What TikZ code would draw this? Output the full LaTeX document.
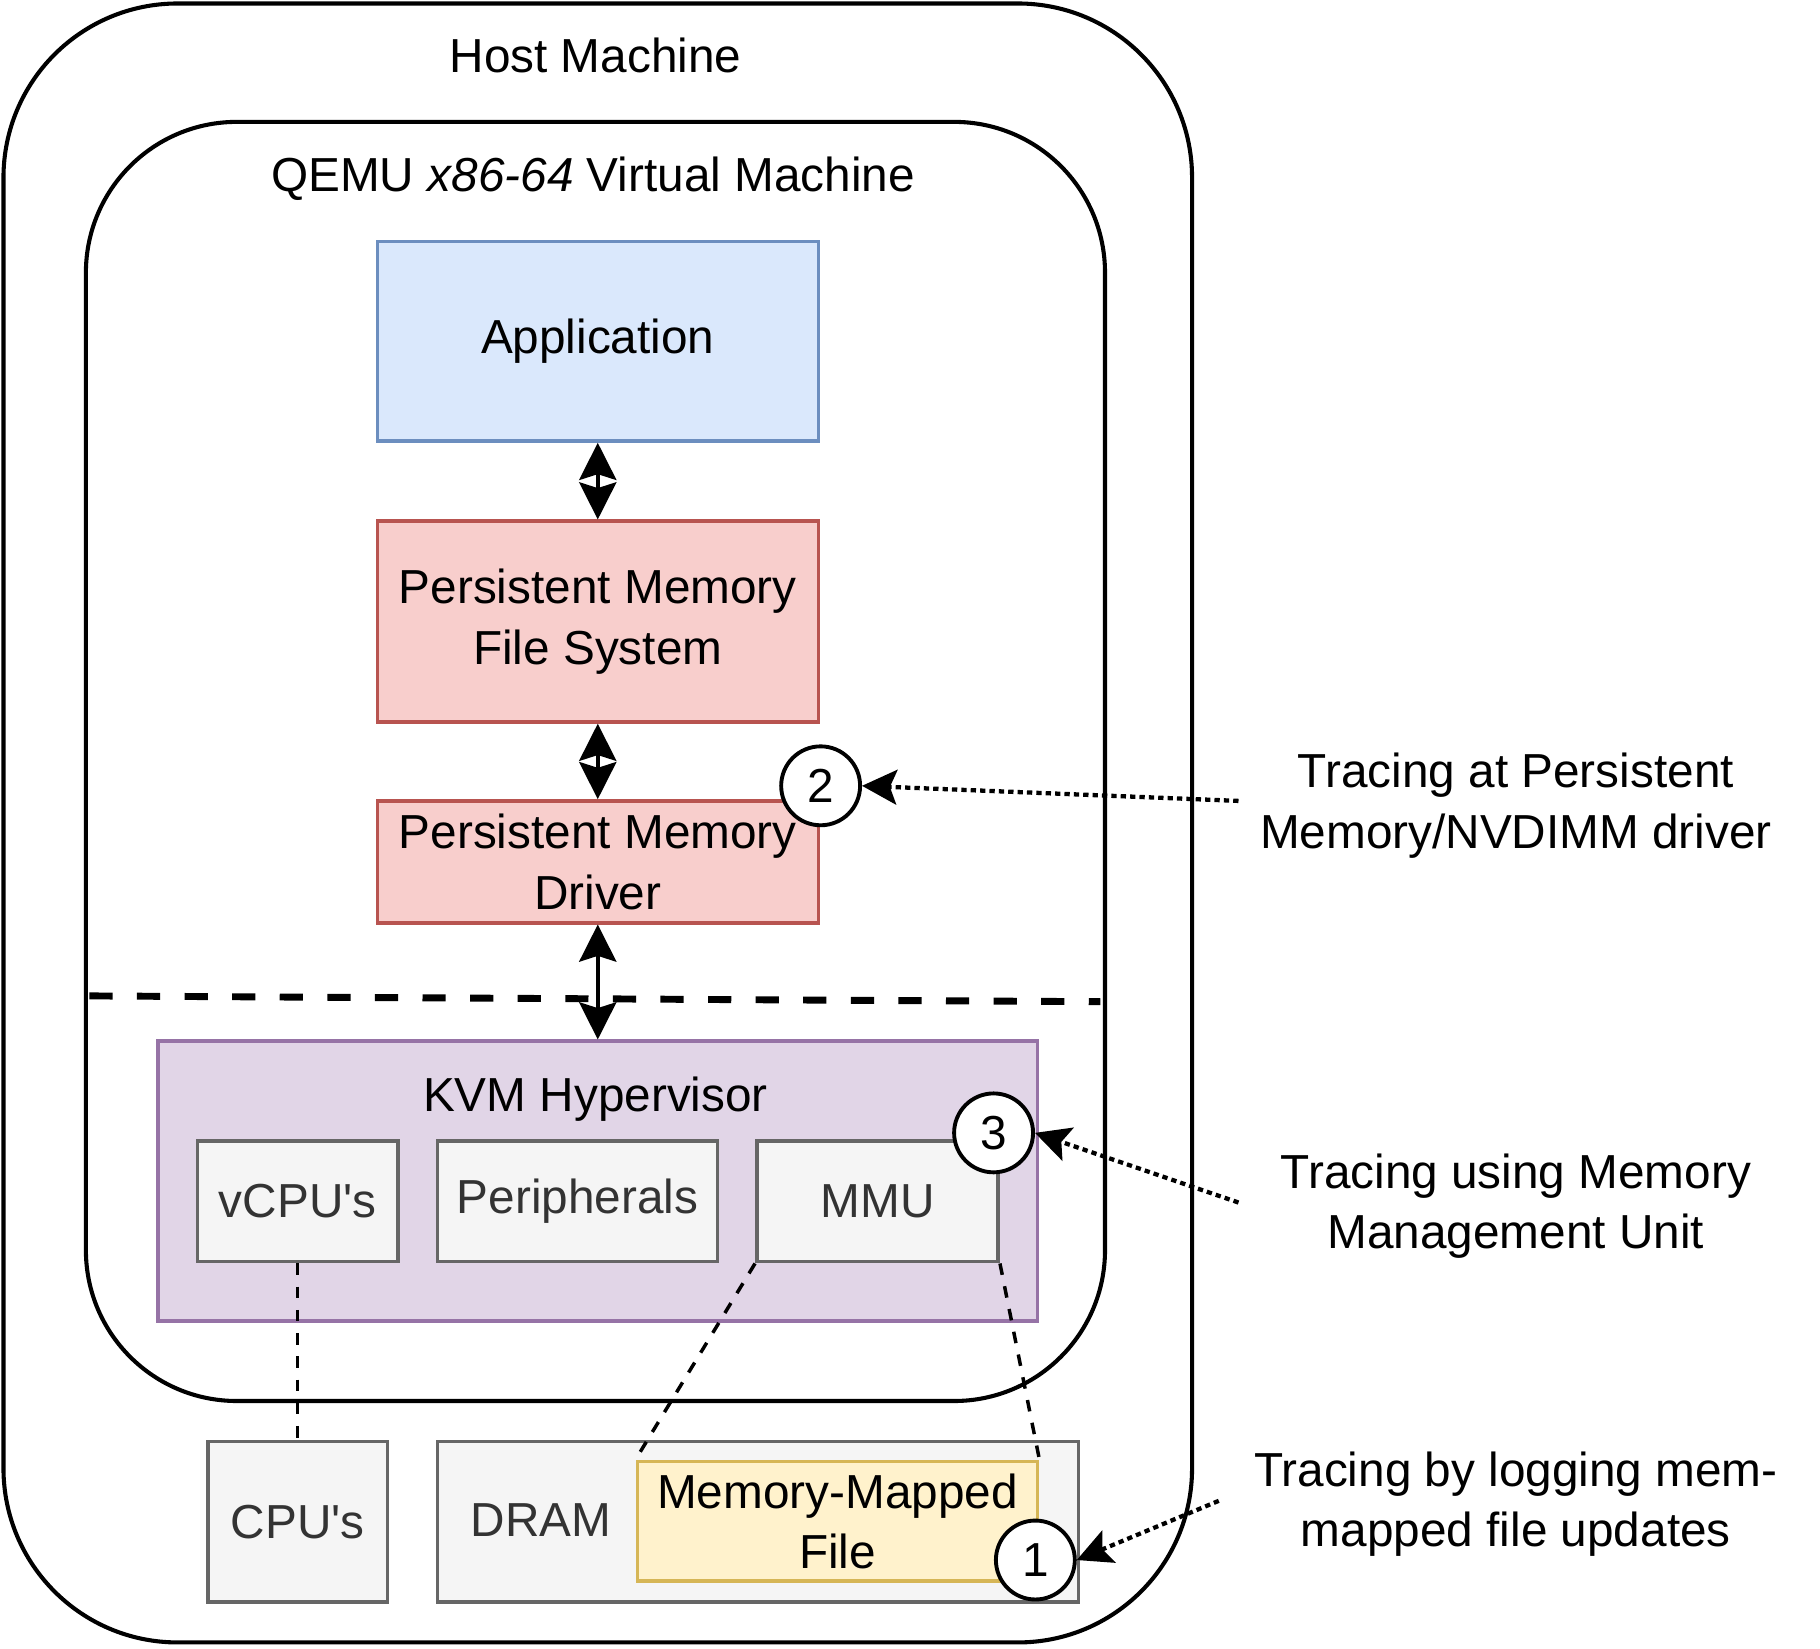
\documentclass[tikz,border=0pt]{standalone}
\usepackage{fontspec}
\setmainfont{Liberation Sans}
\usepackage{tikz}
\usetikzlibrary{arrows.meta,positioning}
\usepackage{xcolor}
\definecolor{appblue}{HTML}{DAE8FC}
\definecolor{appline}{HTML}{6C8EBF}
\definecolor{pmred}{HTML}{F8CECC}
\definecolor{pmline}{HTML}{B85450}
\definecolor{kvmpurple}{HTML}{E1D5E7}
\definecolor{kvmline}{HTML}{9673A6}
\definecolor{hwgray}{HTML}{F5F5F5}
\definecolor{hwline}{HTML}{666666}
\definecolor{hwtext}{HTML}{333333}
\definecolor{mmfyellow}{HTML}{FFF2CC}
\definecolor{mmfline}{HTML}{D6B656}

\tikzset{
  every node/.style={font=\fontsize{11.7}{14.8}\selectfont,inner sep=0pt},
  container/.style={draw,line width=1pt,minimum width=#1},
  swbox/.style={line width=0.85pt,minimum width=3.8cm,align=center},
  hwbox/.style={draw=hwline,fill=hwgray,text=hwtext,line width=0.85pt,align=center},
  tracenum/.style={circle,draw,fill=white,line width=0.95pt,minimum size=0.68cm},
  layerlink/.style={{Stealth[length=0.32cm,width=0.32cm,inset=0.05cm]}-{Stealth[length=0.32cm,width=0.32cm,inset=0.05cm]},line width=0.9pt},
  tracelink/.style={-{Stealth[length=0.3cm,width=0.3cm,inset=0.06cm]},line width=1.05pt,dash pattern=on 1.3pt off 1pt},
  maplink/.style={line width=0.85pt,dash pattern=on 0.1cm off 0.1cm}
}

\begin{document}
\begin{tikzpicture}
\useasboundingbox (0,0) rectangle (15.68,-14.2);

% host and guest
\node[container=10.24cm,minimum height=14.12cm,rounded corners=1.5cm] (host) at (5.15,-7.09){};
\node (hosttitle) at (5.13,-0.48){Host Machine};
\node[container=8.78cm,minimum height=11.02cm,rounded corners=1.3cm] (vm) at (5.13,-6.56){};
\node (vmtitle) at (5.11,-1.54){QEMU \textit{x86-64} Virtual Machine};

% software stack
\node[swbox,draw=appline,fill=appblue,minimum height=1.72cm] (app) at (5.15,-2.94){Application};
\node[swbox,draw=pmline,fill=pmred,minimum height=1.73cm] (pmfs) at (5.15,-5.355){Persistent Memory\\File System};
\node[swbox,draw=pmline,fill=pmred,minimum height=1.05cm] (pmdrv) at (5.15,-7.425){Persistent Memory\\Driver};

\coordinate (sepL) at (0.77,-8.58);
\coordinate (sepR) at (9.48,-8.63);
\draw[line width=1.7pt,dash pattern=on 0.2cm off 0.21cm] (sepL)--(sepR);

% hypervisor
\node[draw=kvmline,fill=kvmpurple,line width=0.85pt,minimum width=7.58cm,minimum height=2.41cm] (kvm) at (5.15,-10.175){};
\node (kvmtitle) at (5.13,-9.47){KVM Hypervisor};
\node[hwbox,minimum width=1.73cm,minimum height=1.04cm] (vcpu) at (2.565,-10.35){vCPU\textquotesingle s};
\node[hwbox,minimum width=2.41cm,minimum height=1.04cm] (periph) at (4.975,-10.35){Peripherals};
\node[hwbox,minimum width=2.08cm,minimum height=1.04cm] (mmu) at (7.56,-10.35){MMU};

% hardware
\node[hwbox,minimum width=1.55cm,minimum height=1.38cm] (cpu) at (2.565,-13.11){CPU\textquotesingle s};
\node[hwbox,minimum width=5.52cm,minimum height=1.38cm] (dram) at (6.53,-13.11){};
\node[text=hwtext] (dramtitle) at (4.66,-13.1){DRAM};
\node[draw=mmfline,fill=mmfyellow,line width=0.85pt,minimum width=3.45cm,minimum height=1.03cm,align=center] (mmf) at (7.215,-13.105){Memory-Mapped\\File};

\draw[layerlink] (app)--(pmfs);
\draw[layerlink] (pmfs)--(pmdrv);
\draw[layerlink] (pmdrv)--(kvm);

\draw[maplink] (vcpu.south)--(cpu.north);
\draw[maplink] (mmu.south west)--(mmf.north west);
\draw[maplink] (mmu.south east)--(mmf.north east);

% tracing points
\node[tracenum] (tp1) at (8.92,-13.44){1};
\node[tracenum] (tp2) at (7.07,-6.77){2};
\node[tracenum] (tp3) at (8.56,-9.76){3};

\node[align=center] (drvnote) at (13.06,-6.94){Tracing at Persistent\\Memory/NVDIMM driver};
\node[align=center] (mmunote) at (13.06,-10.39){Tracing using Memory\\Management Unit};
\node[align=center] (filenote) at (13.06,-12.96){Tracing by logging mem-\\mapped file updates};
\coordinate (drvfrom) at (10.67,-6.90);
\coordinate (mmufrom) at (10.67,-10.36);
\coordinate (filefrom) at (10.50,-12.93);

\draw[tracelink] (drvfrom)--(tp2.east);
\draw[tracelink] (mmufrom)--(tp3.east);
\draw[tracelink] (filefrom)--(tp1.east);
\end{tikzpicture}
\end{document}
